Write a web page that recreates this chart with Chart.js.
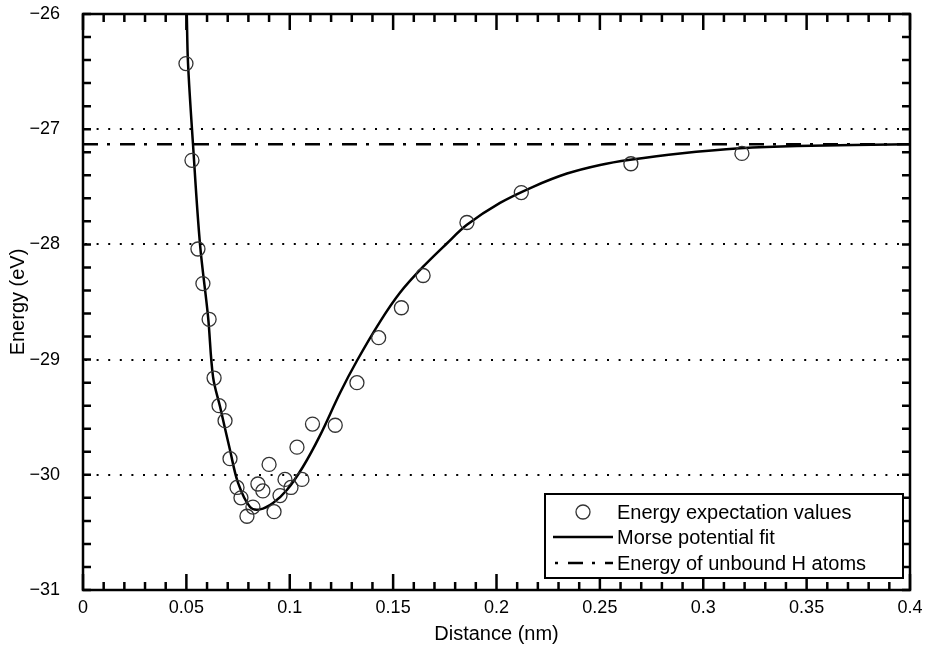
<!DOCTYPE html>
<html>
<head>
<meta charset="utf-8">
<script src="https://cdn.jsdelivr.net/npm/chart.js@4.4.1/dist/chart.umd.min.js"></script>
<style>
  html, body { margin: 0; padding: 0; background: #ffffff; }
  #wrap { width: 928px; height: 647px; }
</style>
</head>
<body>
<div id="wrap"><canvas id="c" width="928" height="647"></canvas></div>
<script>
// ---------------- data ----------------
const energyX = [0.0498, 0.0527, 0.0556, 0.0580, 0.0610, 0.0634, 0.0658, 0.0687, 0.0711, 0.0745,
                 0.0764, 0.0793, 0.0822, 0.0846, 0.0870, 0.0900, 0.0924, 0.0953, 0.0977, 0.1006,
                 0.1035, 0.1059, 0.1110, 0.1220, 0.1325, 0.1430, 0.1540, 0.1645, 0.1857, 0.2120,
                 0.2650, 0.3187];
const energyY = [-26.43, -27.27, -28.04, -28.34, -28.65, -29.16, -29.40, -29.53, -29.86, -30.11,
                 -30.20, -30.36, -30.28, -30.08, -30.14, -29.91, -30.32, -30.18, -30.04, -30.11,
                 -29.76, -30.04, -29.56, -29.57, -29.20, -28.81, -28.55, -28.27, -27.81, -27.55,
                 -27.30, -27.21];
const fitX = [0.0502, 0.0508, 0.0532, 0.0566, 0.0605, 0.0629, 0.0663, 0.0711, 0.0750, 0.0808,
              0.0856, 0.0919, 0.0987, 0.1064, 0.1146, 0.1243, 0.1325, 0.1437, 0.1533, 0.1644,
              0.1761, 0.1857, 0.2017, 0.2177, 0.2341, 0.2501, 0.2646, 0.2888, 0.3178, 0.3453, 0.4000];
const fitY = [-26.00, -26.43, -27.13, -28.00, -28.63, -29.15, -29.41, -29.785, -30.07, -30.28,
              -30.30, -30.245, -30.13, -29.93, -29.66, -29.29, -29.01, -28.67, -28.42, -28.196,
              -27.99, -27.83, -27.64, -27.50, -27.385, -27.31, -27.265, -27.21, -27.165, -27.145, -27.13];
const unboundEnergy = -27.13;
const xTickValues = [0, 0.05, 0.1, 0.15, 0.2, 0.25, 0.3, 0.35, 0.4];
const yTickValues = [-31, -30, -29, -28, -27, -26];
const xMinorStep = 0.01;
const yMinorStep = 0.2;
const seriesLabels = ['Energy expectation values', 'Morse potential fit', 'Energy of unbound H atoms'];
const xTitle = 'Distance (nm)';
const yTitle = 'Energy (eV)';

// ---------------- styling ----------------
const FONT = '"Liberation Sans", Arial, Helvetica, sans-serif';
const dashDot = [15, 9, 3, 10];

const frameAndTicks = {
  id: 'frameAndTicks',
  beforeDatasetsDraw(chart) {
    const {ctx, chartArea: a, scales: {x, y}} = chart;
    ctx.save();
    ctx.strokeStyle = '#000';
    ctx.lineWidth = 2;
    ctx.setLineDash([2, 9.6]);
    yTickValues.forEach(v => {
      if (v === y.min || v === y.max) return;
      const py = Math.round(y.getPixelForValue(v));
      ctx.beginPath();
      ctx.moveTo(a.left + 2, py);
      ctx.lineTo(a.right, py);
      ctx.stroke();
    });
    ctx.restore();
  },
  afterDatasetsDraw(chart) {
    const {ctx, chartArea: a, scales: {x, y}} = chart;
    ctx.save();
    ctx.strokeStyle = '#000';
    ctx.setLineDash([]);
    ctx.lineWidth = 2.5;
    ctx.lineCap = 'butt';
    const nx = Math.round((x.max - x.min) / xMinorStep);
    for (let i = 0; i <= nx; i++) {
      const v = x.min + i * xMinorStep;
      const major = xTickValues.some(t => Math.abs(t - v) < 1e-9);
      const len = major ? 16 : 8;
      const px = x.getPixelForValue(v);
      ctx.beginPath();
      ctx.moveTo(px, a.bottom); ctx.lineTo(px, a.bottom - len);
      ctx.moveTo(px, a.top); ctx.lineTo(px, a.top + len);
      ctx.stroke();
    }
    const ny = Math.round((y.max - y.min) / yMinorStep);
    for (let i = 0; i <= ny; i++) {
      const v = y.min + i * yMinorStep;
      const len = 8;
      const py = y.getPixelForValue(v);
      ctx.beginPath();
      ctx.moveTo(a.left, py); ctx.lineTo(a.left + len, py);
      ctx.moveTo(a.right, py); ctx.lineTo(a.right - len, py);
      ctx.stroke();
    }
    ctx.strokeRect(a.left, a.top, a.right - a.left, a.bottom - a.top);
    ctx.restore();
  },
  afterDraw(chart) {
    const {ctx} = chart;
    const ds = chart.data.datasets;
    const bx = 545, by = 494, bw = 358, bh = 84;
    ctx.save();
    ctx.fillStyle = '#fff';
    ctx.fillRect(bx, by, bw, bh);
    ctx.strokeStyle = '#000';
    ctx.lineWidth = 2;
    ctx.strokeRect(bx, by, bw, bh);
    const rows = [512, 537, 563];
    ctx.font = '20px ' + FONT;
    ctx.fillStyle = '#000';
    ctx.textBaseline = 'middle';
    ctx.textAlign = 'left';
    ctx.lineWidth = 1.3;
    ctx.strokeStyle = '#333';
    ctx.beginPath(); ctx.arc(583, rows[0], 7, 0, Math.PI * 2); ctx.stroke();
    ctx.strokeStyle = '#000';
    ctx.lineWidth = 2.5;
    ctx.beginPath(); ctx.moveTo(553, rows[1]); ctx.lineTo(613, rows[1]); ctx.stroke();
    ctx.setLineDash(dashDot);
    ctx.lineDashOffset = 22;
    ctx.beginPath(); ctx.moveTo(553, rows[2]); ctx.lineTo(613, rows[2]); ctx.stroke();
    ctx.setLineDash([]);
    ds.forEach((d, i) => ctx.fillText(d.label, 617, rows[i] + 1));
    ctx.restore();
  }
};

const fmtX = v => { const r = Number(Number(v).toFixed(2)); return r.toString(); };
const fmtY = v => String(Math.round(v)).replace('-', '\u2212');

new Chart(document.getElementById('c'), {
  type: 'scatter',
  data: {
    datasets: [
      {
        label: seriesLabels[0],
        data: energyX.map((v, i) => ({x: v, y: energyY[i]})),
        showLine: false,
        pointStyle: 'circle',
        pointRadius: 7,
        pointBorderWidth: 1.3,
        pointBackgroundColor: 'rgba(0,0,0,0)',
        pointBorderColor: '#333',
        order: 1
      },
      {
        label: seriesLabels[1],
        data: fitX.map((v, i) => ({x: v, y: fitY[i]})),
        showLine: true,
        borderColor: '#000',
        borderWidth: 2.5,
        pointRadius: 0,
        tension: 0.35,
        fill: false,
        order: 2
      },
      {
        label: seriesLabels[2],
        data: [{x: xTickValues[0], y: unboundEnergy}, {x: xTickValues[xTickValues.length - 1], y: unboundEnergy}],
        showLine: true,
        borderColor: '#000',
        borderWidth: 2.5,
        borderDash: dashDot,
        pointRadius: 0,
        fill: false,
        order: 3
      }
    ]
  },
  options: {
    responsive: false,
    animation: false,
    devicePixelRatio: 1,
    layout: { padding: { left: 0, right: 18, top: 14, bottom: 0 } },
    plugins: { legend: { display: false }, tooltip: { enabled: false } },
    scales: {
      x: {
        type: 'linear',
        min: 0, max: 0.4,
        afterFit: s => { s.height = 57; s.paddingLeft = 0; s.paddingRight = 0; },
        afterBuildTicks: s => { s.ticks = xTickValues.map(v => ({value: v})); },
        ticks: { callback: fmtX, color: '#000', font: { family: FONT, size: 18 }, padding: 7, maxRotation: 0, autoSkip: false },
        grid: { display: false, drawTicks: false },
        border: { display: false },
        title: { display: true, text: xTitle, color: '#000', font: { family: FONT, size: 20 }, padding: { top: 0, bottom: 1 } }
      },
      y: {
        type: 'linear',
        min: -31, max: -26,
        afterFit: s => { s.width = 83; s.paddingTop = 0; s.paddingBottom = 0; },
        afterBuildTicks: s => { s.ticks = yTickValues.map(v => ({value: v})); },
        ticks: { callback: fmtY, color: '#000', font: { family: FONT, size: 18 }, padding: 23, autoSkip: false },
        grid: { display: false, drawTicks: false },
        border: { display: false },
        title: { display: true, text: yTitle, color: '#000', font: { family: FONT, size: 20 }, padding: { top: 6, bottom: 0 } }
      }
    }
  },
  plugins: [frameAndTicks]
});
</script>
</body>
</html>
